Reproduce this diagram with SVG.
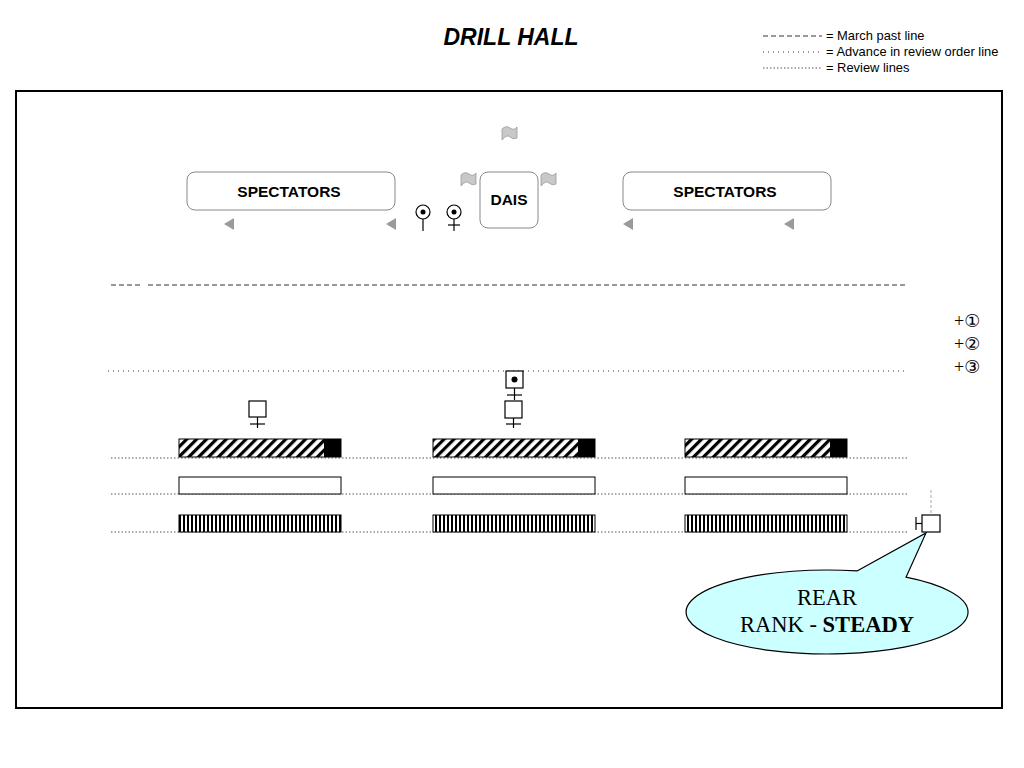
<svg xmlns="http://www.w3.org/2000/svg" width="1024" height="768" viewBox="0 0 1024 768">
<defs>
<pattern id="diag" width="7" height="7" patternUnits="userSpaceOnUse" patternTransform="rotate(45)">
<rect width="7" height="7" fill="#fff"/>
<rect x="0" y="0" width="3.2" height="7" fill="#000"/>
</pattern>
<pattern id="vert" width="4" height="10" patternUnits="userSpaceOnUse" x="179">
<rect width="4" height="10" fill="#fff"/>
<rect x="0" y="0" width="2" height="10" fill="#000"/>
</pattern>
<g id="flag"><path d="M0,3 Q4,-1 8,2 T15,1 L15,12 Q11,14 8,11 T0,14 Z" fill="#c8c8c8" stroke="#999" stroke-width="0.8"/></g>
<g id="tri"><path d="M0,0 L10,-6 L10,6 Z" fill="#9a9a9a"/></g>
</defs>
<style>
.sans{font-family:"Liberation Sans",Arial,sans-serif}
.serif{font-family:"Liberation Serif","Times New Roman",serif}
.circ{font-family:"DejaVu Sans","Noto Sans CJK JP",sans-serif;fill:#000}
.box{fill:#fff;stroke:#888;stroke-width:1}
.march{stroke:#333;stroke-width:1;stroke-dasharray:5,3;fill:none}
.adv{stroke:#333;stroke-width:1;stroke-dasharray:1,4;fill:none}
.rev{stroke:#555;stroke-width:1.2;stroke-dasharray:1.5,2;fill:none}
.sym{fill:#fff;stroke:#000;stroke-width:1.2}
.ln{stroke:#000;stroke-width:1.2;fill:none}
.bar{stroke:#000;stroke-width:1}
</style>
<rect width="1024" height="768" fill="#fff"/>
<text class="sans" x="511" y="45" font-size="23" font-weight="bold" font-style="italic" text-anchor="middle">DRILL HALL</text>
<g id="legend">
<line class="march" x1="763" y1="36" x2="822" y2="36" stroke-dasharray="4,3"/>
<line class="adv" x1="763" y1="52" x2="822" y2="52" stroke="#888"/>
<line class="rev" x1="763" y1="68" x2="822" y2="68" stroke-width="1" stroke-dasharray="1,1"/>
<text class="sans" x="826" y="40" font-size="12.9">= March past line</text>
<text class="sans" x="826" y="56" font-size="12.9">= Advance in review order line</text>
<text class="sans" x="826" y="72" font-size="12.9">= Review lines</text>
</g>
<rect x="16" y="91" width="986" height="617" fill="none" stroke="#000" stroke-width="2"/>
<g id="connectors">
<line class="march" x1="111" y1="285" x2="140" y2="285"/>
<line class="march" x1="148" y1="285" x2="907" y2="285"/>
<line class="adv" x1="108" y1="371" x2="905" y2="371"/>
<line class="rev" x1="111" y1="458" x2="907" y2="458"/>
<line class="rev" x1="111" y1="494" x2="907" y2="494"/>
<line class="rev" x1="111" y1="532" x2="907" y2="532"/>
<line x1="931" y1="490" x2="931" y2="515" stroke="#aaa" stroke-width="1" stroke-dasharray="3,2"/>
</g>
<g id="spectators-left">
<rect class="box" x="187" y="172" width="208" height="38" rx="8"/>
<text class="sans" x="289" y="197" font-size="15.5" font-weight="bold" text-anchor="middle">SPECTATORS</text>
<use href="#tri" x="224" y="224"/>
<use href="#tri" x="386" y="224"/>
</g>
<g id="spectators-right">
<rect class="box" x="623" y="172" width="208" height="38" rx="8"/>
<text class="sans" x="725" y="197" font-size="15.5" font-weight="bold" text-anchor="middle">SPECTATORS</text>
<use href="#tri" x="623" y="224"/>
<use href="#tri" x="784" y="224"/>
</g>
<g id="dais">
<rect class="box" x="480" y="172" width="58" height="56" rx="8"/>
<text class="sans" x="509" y="205" font-size="15.5" font-weight="bold" text-anchor="middle">DAIS</text>
<use href="#flag" x="502" y="126"/>
<use href="#flag" x="461" y="172"/>
<use href="#flag" x="541" y="172"/>
</g>
<g id="officer1">
<circle class="sym" cx="423" cy="212" r="7"/>
<circle cx="423" cy="212" r="2.5" fill="#000"/>
<line class="ln" x1="423" y1="219" x2="423" y2="231"/>
</g>
<g id="officer2">
<circle class="sym" cx="454" cy="212" r="7"/>
<circle cx="454" cy="212" r="2.5" fill="#000"/>
<line class="ln" x1="454" y1="219" x2="454" y2="231"/>
<line class="ln" x1="448" y1="225" x2="460" y2="225"/>
</g>
<g id="marker-numbers" class="serif" font-size="18">
<text x="954" y="327">+<tspan class="circ" font-size="18">①</tspan></text>
<text x="954" y="350">+<tspan class="circ" font-size="18">②</tspan></text>
<text x="954" y="373">+<tspan class="circ" font-size="18">③</tspan></text>
</g>
<g id="figure-left">
<rect class="sym" x="249" y="401" width="17" height="16"/>
<line class="ln" x1="257.5" y1="417" x2="257.5" y2="428"/>
<line class="ln" x1="250" y1="424" x2="265" y2="424"/>
</g>
<g id="figure-centre-officer">
<rect class="sym" x="506" y="371" width="17" height="17"/>
<circle cx="514.5" cy="379.5" r="3" fill="#000"/>
<line class="ln" x1="514.5" y1="388" x2="514.5" y2="400"/>
<line class="ln" x1="507" y1="395" x2="522" y2="395"/>
</g>
<g id="figure-centre">
<rect class="sym" x="505" y="401" width="17" height="17"/>
<line class="ln" x1="513.5" y1="418" x2="513.5" y2="428"/>
<line class="ln" x1="506" y1="424" x2="521" y2="424"/>
</g>
<g id="front-rank">
<rect class="bar" x="179" y="439" width="162" height="18" fill="url(#diag)"/>
<rect x="324" y="439" width="17" height="18" fill="#000"/>
<rect class="bar" x="433" y="439" width="162" height="18" fill="url(#diag)"/>
<rect x="578" y="439" width="17" height="18" fill="#000"/>
<rect class="bar" x="685" y="439" width="162" height="18" fill="url(#diag)"/>
<rect x="830" y="439" width="17" height="18" fill="#000"/>
</g>
<g id="centre-rank">
<rect class="bar" x="179" y="477" width="162" height="17" fill="#fff"/>
<rect class="bar" x="433" y="477" width="162" height="17" fill="#fff"/>
<rect class="bar" x="685" y="477" width="162" height="17" fill="#fff"/>
</g>
<g id="rear-rank">
<rect class="bar" x="179" y="515" width="162" height="17" fill="url(#vert)"/>
<rect class="bar" x="433" y="515" width="162" height="17" fill="url(#vert)"/>
<rect class="bar" x="685" y="515" width="162" height="17" fill="url(#vert)"/>
</g>
<g id="callout">
<path d="M857,570.96 L926,533 L906,577.2 A141,42 0 1 1 857,570.96 Z" fill="#ccffff" stroke="#000" stroke-width="1.2"/>
<text class="serif" x="827" y="605" font-size="22.5" text-anchor="middle">REAR</text>
<text class="serif" x="827" y="632" font-size="22.5" text-anchor="middle">RANK - <tspan font-weight="bold">STEADY</tspan></text>
</g>
<g id="instructor">
<rect class="sym" x="922" y="515" width="18" height="17"/>
<line class="ln" x1="916" y1="523.5" x2="922" y2="523.5"/>
<line class="ln" x1="916" y1="517" x2="916" y2="530"/>
</g>
</svg>
